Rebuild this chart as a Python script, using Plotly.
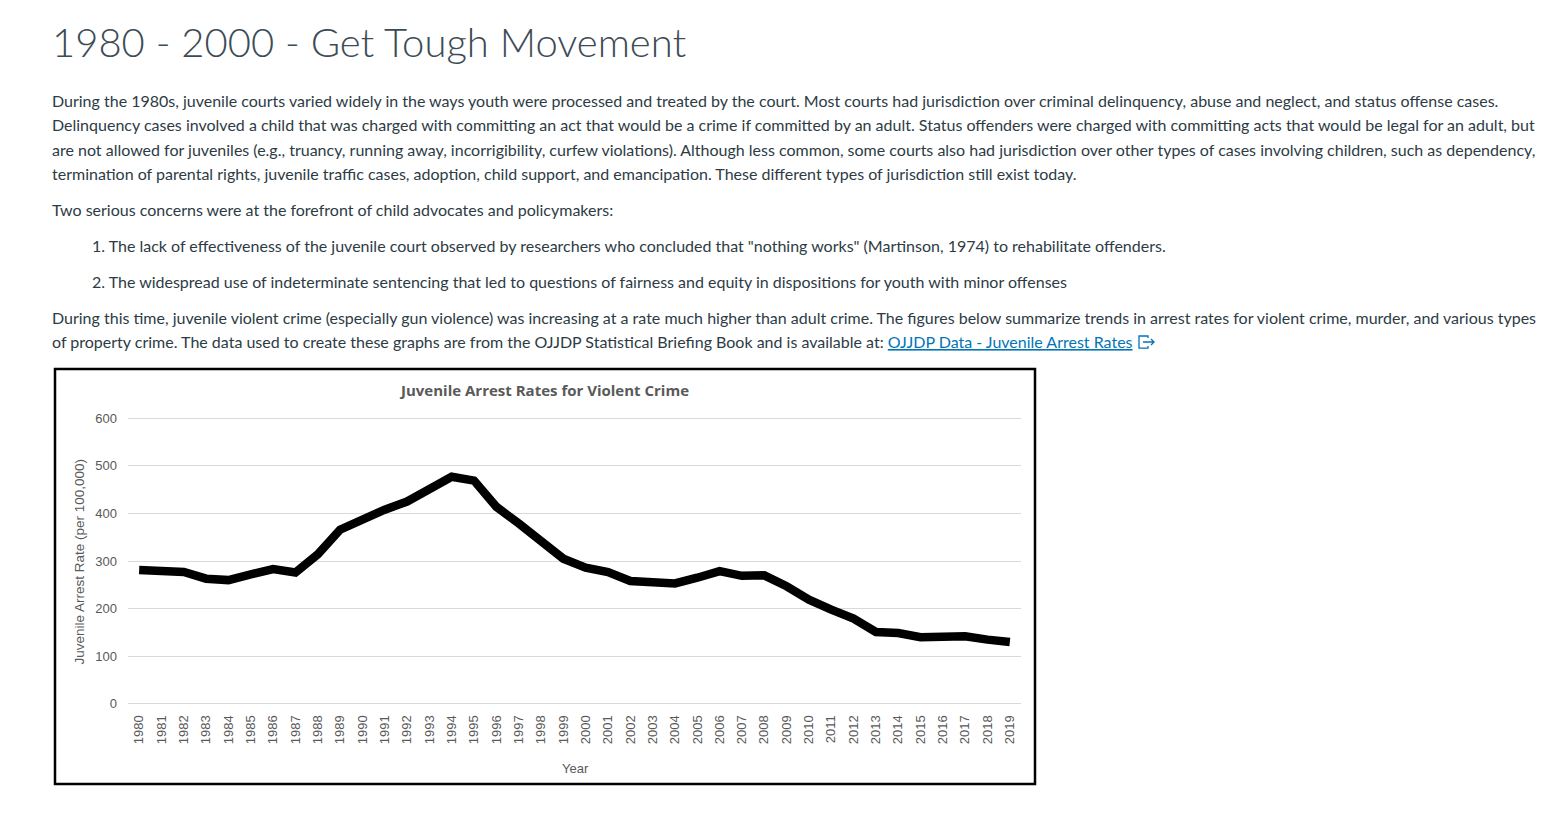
import plotly.graph_objects as go

W, H = 1559, 813
# measured placement of the drawn figure inside the photographed page
X_OFF = 8
Y_TOP, Y_SPAN = 12.8, 803.0

# data
years = list(range(1980, 2020))
arrest_rate = [281, 281, 277, 263, 260, 272, 283, 276, 314, 366,
               389, 408, 425, 449, 477, 469, 414, 379, 342, 305,
               286, 277, 258, 255, 253, 265, 279, 269, 270, 247,
               219, 198, 179, 151, 149, 140, 142, 142, 135, 130]
y_ticks = [0, 100, 200, 300, 400, 500, 600]

page_title = "1980 - 2000 - Get Tough Movement"
para1 = [
    "During the 1980s, juvenile courts varied widely in the ways youth were processed and treated by the court. Most courts had jurisdiction over criminal delinquency, abuse and neglect, and status offense cases.",
    "Delinquency cases involved a child that was charged with committing an act that would be a crime if committed by an adult. Status offenders were charged with committing acts that would be legal for an adult, but",
    "are not allowed for juveniles (e.g., truancy, running away, incorrigibility, curfew violations). Although less common, some courts also had jurisdiction over other types of cases involving children, such as dependency,",
    "termination of parental rights, juvenile traffic cases, adoption, child support, and emancipation. These different types of jurisdiction still exist today.",
]
para2 = "Two serious concerns were at the forefront of child advocates and policymakers:"
items = [
    "1. The lack of effectiveness of the juvenile court observed by researchers who concluded that \"nothing works\" (Martinson, 1974) to rehabilitate offenders.",
    "2. The widespread use of indeterminate sentencing that led to questions of fairness and equity in dispositions for youth with minor offenses",
]
para3 = [
    "During this time, juvenile violent crime (especially gun violence) was increasing at a rate much higher than adult crime. The figures below summarize trends in arrest rates for violent crime, murder, and various types",
    "of property crime. The data used to create these graphs are from the OJJDP Statistical Briefing Book and is available at: ",
]
link_text = "OJJDP Data - Juvenile Arrest Rates"

TEXT = "#2d3b45"
GREY = "#595959"


def px(x):
    return (x - X_OFF) / W


def py(y):
    return 1 - (y - Y_TOP) / Y_SPAN


fig = go.Figure()

fig.add_trace(go.Scatter(
    x=years, y=arrest_rate, mode="lines",
    line=dict(color="black", width=8.5),
    showlegend=False, hoverinfo="x+y",
))

ann = []


def text_line(s, x, y, size=16, color=TEXT, weight=None, family="Lato", xanchor="left"):
    f = dict(family=family, size=size, color=color)
    if weight:
        f["weight"] = weight
    ann.append(dict(text=s, x=px(x), y=py(y), xref="paper", yref="paper",
                    xanchor=xanchor, yanchor="middle", showarrow=False, font=f))


text_line(page_title, 50, 43, size=40, weight=300, color="#3d4b55")
for i, s in enumerate(para1):
    text_line(s, 50, 101.5 + 24 * i)
text_line(para2, 50, 210)
text_line(items[0], 90, 246)
text_line(items[1], 90, 281.5)
text_line(para3[0], 50, 317.5)
text_line(para3[1] + "<span style='color:#0374b5;text-decoration:underline'>" + link_text + "</span>", 50, 341)

# chart texts
text_line("<b>Juvenile Arrest Rates for Violent Crime</b>", 544, 390, size=15, color=GREY,
          family="Open Sans", xanchor="center")
text_line("Year", 575, 767, size=13, color=GREY, family="Liberation Sans", xanchor="center")
ann.append(dict(text="Juvenile Arrest Rate (per 100,000)", x=px(80), y=py(561),
                xref="paper", yref="paper", xanchor="center", yanchor="middle",
                textangle=-90, showarrow=False,
                font=dict(family="Liberation Sans", size=13.5, color=GREY)))

shapes = [
    # chart frame
    dict(type="rect", xref="paper", yref="paper", x0=px(55), x1=px(1035), y0=py(783), y1=py(369),
         line=dict(color="black", width=2.5), layer="below"),
    # external link icon
    dict(type="path", xref="paper", yref="paper",
         path=f"M {px(1148)},{py(338)} L {px(1148)},{py(336)} L {px(1139)},{py(336)} L {px(1139)},{py(348)} "
              f"L {px(1148)},{py(348)} L {px(1148)},{py(346)}",
         line=dict(color="#0374b5", width=1.3)),
    dict(type="path", xref="paper", yref="paper",
         path=f"M {px(1143)},{py(342)} L {px(1154)},{py(342)} M {px(1151)},{py(339)} L {px(1154)},{py(342)} L {px(1151)},{py(345)}",
         line=dict(color="#0374b5", width=1.3)),
]

# y range padded so the 0 and 600 gridlines sit inside the plot area
pad = 8
pad_px = pad * 285 / 600

fig.update_layout(
    width=W, height=H,
    margin=dict(l=0, r=0, t=0, b=0),
    paper_bgcolor="white", plot_bgcolor="white",
    annotations=ann, shapes=shapes,
    xaxis=dict(
        domain=[px(128), px(1021)],
        range=[1979.5, 2019.5],
        tickmode="array", tickvals=years, ticktext=[str(y) for y in years],
        tickangle=-90, showgrid=False, zeroline=False, showline=False,
        ticks="", ticklabelstandoff=4,
        tickfont=dict(family="Liberation Sans", size=13, color=GREY),
        fixedrange=True,
    ),
    yaxis=dict(
        domain=[py(703 + pad_px), py(418 - pad_px)],
        range=[-pad, 600 + pad],
        tickmode="array", tickvals=y_ticks,
        showgrid=True, gridcolor="#d9d9d9", gridwidth=1,
        zeroline=False, showline=False, ticks="", ticklabelstandoff=10,
        tickfont=dict(family="Liberation Sans", size=13, color=GREY),
        fixedrange=True,
    ),
)

fig.write_html("out.html")
